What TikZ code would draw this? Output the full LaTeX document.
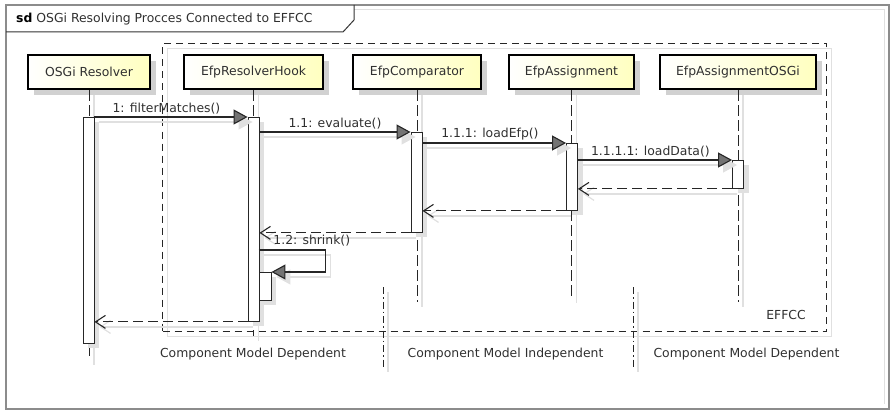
\documentclass[tikz,border=0pt]{standalone}
\usepackage{fontspec}
\setmainfont{DejaVu Sans}
\usetikzlibrary{arrows.meta, positioning, shadows}
\definecolor{headYellow}{HTML}{FFFFC0}
\definecolor{frameGray}{HTML}{8C8C8C}
\definecolor{shadeGray}{HTML}{E0E0E0}
\definecolor{textGray}{HTML}{303030}

\begin{document}
\begin{tikzpicture}[
    x=1pt, y=-1pt,
    every node/.style={font=\fontsize{12.4}{14}\selectfont, text=textGray},
    softshade/.style={preaction={draw=shadeGray, solid, line width=1.2pt, transform canvas={shift={(5pt,-5pt)}}}},
    lifehead/.style={rectangle, draw=black, line width=2.4pt, minimum height=34pt, inner sep=0pt,
        left color=white, right color=headYellow,
        drop shadow={shadow xshift=6pt, shadow yshift=-6pt, fill=black!18, opacity=1}},
    actbar/.style={rectangle, draw=black!85, line width=0.9pt, fill=white, minimum width=11pt, inner sep=0pt, anchor=north,
        drop shadow={shadow xshift=5pt, shadow yshift=-5pt, fill=shadeGray, opacity=1}},
    lifeline/.style={draw=black!85, line width=1pt, dash pattern=on 11pt off 4pt, softshade},
    msg/.style={draw=black!85, line width=1.1pt, -{Triangle[length=14pt, width=15pt, fill=black!55]},
        preaction={draw=shadeGray, line width=1.2pt, -{Triangle[length=14pt, width=15pt, fill=shadeGray]}, transform canvas={shift={(5pt,-5pt)}}}},
    ret/.style={draw=black!85, line width=1.1pt, dash pattern=on 10pt off 5pt, -{Straight Barb[length=10pt, width=13pt]},
        preaction={draw=shadeGray, solid, line width=1.2pt, -{Straight Barb[length=10pt, width=13pt]}, transform canvas={shift={(5pt,-5pt)}}}},
    sepline/.style={draw=black!85, line width=1pt, dash pattern=on 7pt off 3pt on 1.5pt off 3pt, softshade},
    msglabel/.style={above, inner sep=2pt},
]
    \useasboundingbox (0,0) rectangle (892,412);

    % outer frame with its title tab
    \draw[frameGray, line width=1.3pt] (6,5) rectangle (889,409);
    \draw[shadeGray, line width=1pt] (354,10) -- (884,10) -- (884,404);
    \draw[black!80, line width=1pt] (6,32) -- (343,32) -- (354,20) -- (354,5);
    \node[anchor=west, inner sep=0pt] (title) at (16,19) {\textbf{\color{black}sd} OSGi Resolving Procces Connected to EFFCC};

    % EFFCC fragment
    \node[rectangle, draw=black!85, line width=1pt, dash pattern=on 7pt off 5pt, softshade,
          minimum width=664pt, minimum height=288pt, anchor=north west, inner sep=0pt] (effcc) at (162,43) {};
    \node[anchor=south east, inner sep=0pt] (effccLabel) at ([xshift=-21pt, yshift=12pt]effcc.south east) {EFFCC};

    % lifeline heads
    \node[lifehead, minimum width=122pt] (resHead)  at (89,72)    {OSGi Resolver};
    \node[lifehead, minimum width=139pt] (hookHead) at (253.5,72) {EfpResolverHook};
    \node[lifehead, minimum width=128pt] (cmpHead)  at (417,72)   {EfpComparator};
    \node[lifehead, minimum width=125pt] (asgHead)  at (571.5,72) {EfpAssignment};
    \node[lifehead, minimum width=156pt] (osgiHead) at (738,72)   {EfpAssignmentOSGi};

    \coordinate (resEnd)  at (89,360);
    \coordinate (hookEnd) at (253.5,336);
    \coordinate (cmpEnd)  at (417,302);
    \coordinate (asgEnd)  at (571.5,298);
    \coordinate (osgiEnd) at (738,302);

    \draw[lifeline] (resHead.south)  -- (resEnd);
    \draw[lifeline] (hookHead.south) -- (hookEnd);
    \draw[lifeline] (cmpHead.south)  -- (cmpEnd);
    \draw[lifeline] (asgHead.south)  -- (asgEnd);
    \draw[lifeline] (osgiHead.south) -- (osgiEnd);

    % activation bars
    \node[actbar, minimum height=226pt] (resBar)  at (88.5,117)  {};
    \node[actbar, minimum height=204pt] (hookBar) at (253.5,117) {};
    \node[actbar, minimum height=28pt, minimum width=12pt] (hookSub) at (265,272) {};
    \node[actbar, minimum height=100pt] (cmpBar)  at (416.5,132) {};
    \node[actbar, minimum height=67pt]  (asgBar)  at (572,143)   {};
    \node[actbar, minimum height=28pt]  (osgiBar) at (738,160)   {};

    % calls
    \draw[msg] (resBar.north east) -- node[msglabel, pos=0.47] {1: filterMatches()} (hookBar.north west);
    \draw[msg] (hookBar.east |- cmpBar.north) -- node[msglabel] {1.1: evaluate()} (cmpBar.north west);
    \draw[msg] (cmpBar.east |- asgBar.north) -- node[msglabel, pos=0.47] {1.1.1: loadEfp()} (asgBar.north west);
    \draw[msg] (asgBar.east |- osgiBar.north) -- node[msglabel, pos=0.47] {1.1.1.1: loadData()} (osgiBar.north west);

    % returns
    \draw[ret] (osgiBar.south west) -- (asgBar.east |- osgiBar.south);
    \draw[ret] (asgBar.south west) -- (cmpBar.east |- asgBar.south);
    \draw[ret] (cmpBar.south west) -- (hookBar.east |- cmpBar.south);
    \draw[ret] (hookBar.south west) -- (resBar.east |- hookBar.south);

    % self call
    \draw[msg] ([yshift=22pt]hookSub.north west)
        -- node[pos=0, anchor=south west, xshift=11pt] {1.2: shrink()} ++(67,0)
        |- (hookSub.north east);

    % model dependency separators
    \coordinate (sepAtop) at (383,287);
    \coordinate (sepAbot) at (383,367);
    \coordinate (sepBtop) at (633,287);
    \coordinate (sepBbot) at (633,367);
    \draw[sepline] (sepAtop) -- (sepAbot);
    \draw[sepline] (sepBtop) -- (sepBbot);

    \node (depLeft)  at (253,354)   {Component Model Dependent};
    \node (indep)    at (505.5,354) {Component Model Independent};
    \node (depRight) at (746.5,354) {Component Model Dependent};
\end{tikzpicture}
\end{document}
